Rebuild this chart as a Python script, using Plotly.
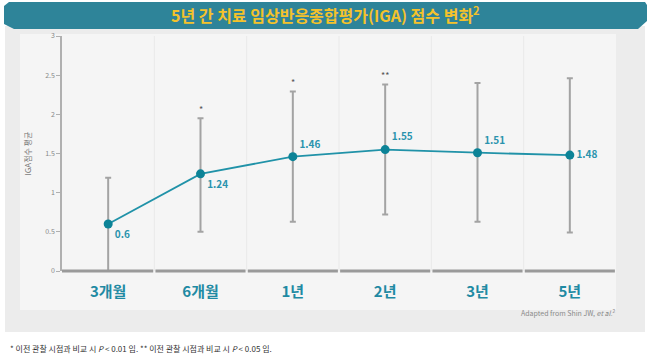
import plotly.graph_objects as go

categories = ["3개월", "6개월", "1년", "2년", "3년", "5년"]
means = [0.6, 1.24, 1.46, 1.55, 1.51, 1.48]
err_plus = [0.59, 0.71, 0.83, 0.83, 0.89, 0.98]
err_minus = [0.6, 0.74, 0.83, 0.83, 0.88, 0.99]
value_labels = ["0.6", "1.24", "1.46", "1.55", "1.51", "1.48"]
label_pos = ["bottom right", "bottom right", "top right", "top right", "top right", "middle right"]
sig_marks = ["", "*", "*", "**", "", ""]
y_ticks = [0, 0.5, 1, 1.5, 2, 2.5, 3]

W, H = 650, 359
L, R, T, B = 62, 616, 36, 271


def px(x):
    return (x - L) / (R - L)


def py(y):
    return (B - y) / (B - T)


TEAL_LINE = "#2092a8"
TEAL_MARK = "#0c8397"
TEAL_TEXT = "#2a93ad"
GRAY = "#a3a3a3"
FONT = "Noto Sans CJK KR"

fig = go.Figure()

# error bars (behind line)
fig.add_trace(go.Scatter(
    x=categories, y=means, mode="markers",
    marker=dict(size=1, color="rgba(0,0,0,0)"),
    error_y=dict(type="data", symmetric=False, array=err_plus, arrayminus=err_minus,
                 color=GRAY, thickness=2, width=3),
    hoverinfo="skip", showlegend=False,
))

fig.add_trace(go.Scatter(
    x=categories, y=means, mode="lines+markers+text",
    line=dict(color=TEAL_LINE, width=1.8),
    marker=dict(size=9, color=TEAL_MARK),
    text=value_labels, textposition=label_pos,
    textfont=dict(family=FONT, size=10, color=TEAL_TEXT, weight="bold"),
    showlegend=False,
))

shapes = []
# page background
shapes.append(dict(type="rect", xref="paper", yref="paper", x0=px(5), x1=px(645), y0=py(332), y1=py(26),
                   fillcolor="#ececec", line=dict(width=0), layer="below"))
shapes.append(dict(type="rect", xref="paper", yref="paper", x0=px(20), x1=px(616), y0=py(310), y1=py(34),
                   fillcolor="#f5f5f5", line=dict(width=0), layer="below"))
# banner
pts = [(9, 2), (645, 2), (647, 5), (647, 21), (638, 29), (14, 29), (4, 24), (4, 6)]
path = "M " + " L ".join(f"{px(a)},{py(b)}" for a, b in pts) + " Z"
shapes.append(dict(type="path", xref="paper", yref="paper", path=path,
                   fillcolor="#2e8499", line=dict(width=0), layer="below"))
# vertical faint gridlines at category boundaries
for i in range(len(categories) - 1):
    shapes.append(dict(type="line", xref="x", yref="paper", x0=i + 0.5, x1=i + 0.5, y0=0, y1=1,
                       line=dict(color="#e9e9e9", width=1), layer="below"))
# segmented bottom axis
for i in range(len(categories)):
    shapes.append(dict(type="line", xref="x", yref="paper",
                       x0=i - 0.5 + (0.0 if i == 0 else 0.012), x1=i + 0.5 - 0.012, y0=0, y1=0,
                       line=dict(color="#9a9a9a", width=3)))

annotations = []
for c, m, e, s in zip(categories, means, err_plus, sig_marks):
    if s:
        annotations.append(dict(x=c, y=m + e, xref="x", yref="y", text=s, showarrow=False,
                                yshift=9, font=dict(size=9, color="#555", family=FONT)))

annotations.append(dict(x=px(325), y=py(15), xref="paper", yref="paper",
                        text="5년 간 치료 임상반응종합평가(IGA) 점수 변화<sup>2</sup>", showarrow=False,
                        font=dict(family=FONT, size=16, color="#f4c22b", weight="bold"),
                        xanchor="center", yanchor="middle"))
annotations.append(dict(x=px(617), y=py(312), xref="paper", yref="paper",
                        text="Adapted from Shin JW, <i>et al.</i><sup>2</sup>", showarrow=False,
                        font=dict(family=FONT, size=7, color="#8a8a8a"),
                        xanchor="right", yanchor="middle"))
annotations.append(dict(x=px(8), y=py(348), xref="paper", yref="paper",
                        text="* 이전 관찰 시점과 비교 시 <i>P</i> &lt; 0.01 임. ** 이전 관찰 시점과 비교 시 <i>P</i> &lt; 0.05 임.",
                        showarrow=False, font=dict(family=FONT, size=8, color="#333"),
                        xanchor="left", yanchor="middle"))

fig.update_layout(
    width=W, height=H,
    margin=dict(l=L, r=W - R, t=T, b=H - B, pad=0),
    paper_bgcolor="#ffffff", plot_bgcolor="rgba(0,0,0,0)",
    shapes=shapes, annotations=annotations,
    xaxis=dict(type="category", range=[-0.5, len(categories) - 0.5], showgrid=False,
               zeroline=False, showline=False, ticks="", ticklabelstandoff=10,
               tickfont=dict(family=FONT, size=15, color="#1f8aa3", weight="bold"),
               fixedrange=True),
    yaxis=dict(range=[0, 3], tickvals=y_ticks, showgrid=False, zeroline=False,
               showline=True, linecolor="#b0b0b0", linewidth=1.5,
               ticks="outside", ticklen=4, tickcolor="#b0b0b0",
               tickfont=dict(family=FONT, size=7, color="#888"),
               title=dict(text="IGA점수 평균", font=dict(family=FONT, size=8, color="#777"), standoff=12),
               fixedrange=True),
    showlegend=False,
)

fig.write_html("out.html", config={"displayModeBar": False},
               post_script="document.body.style.margin='0px';document.body.style.overflow='hidden';")
